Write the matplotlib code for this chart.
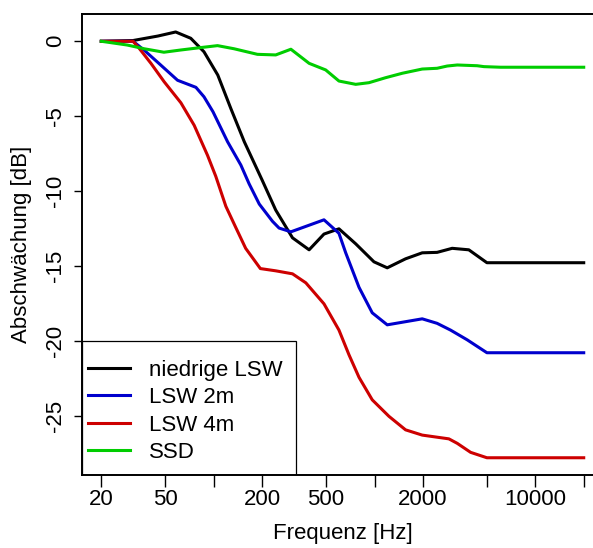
import numpy as np
import matplotlib.pyplot as plt
from matplotlib.patches import Rectangle

plt.rcParams['font.family'] = ['Liberation Sans', 'DejaVu Sans']
plt.rcParams['font.size'] = 16

# frequencies (Hz) and attenuation (dB)
f_niedrig = [20, 31.5, 45, 58, 72, 87, 106, 128, 155, 200, 243, 309, 392, 485,
             601, 764, 992, 1200, 1560, 1980, 2450, 3040, 3860, 5000, 20000]
niedrig = [0, 0.05, 0.35, 0.62, 0.2, -0.7, -2.25, -4.5, -6.7, -9.25, -11.25, -13.1, -13.9, -12.85,
           -12.5, -13.5, -14.7, -15.1, -14.5, -14.1, -14.07, -13.8, -13.9, -14.76, -14.76]

f_lsw2 = [20, 31.5, 37, 47, 59.6, 77.5, 87, 99, 122, 147.5, 166, 192, 232, 255, 302,
          485, 601, 662, 801, 968, 1200, 1980, 2450, 2970, 3770, 5000, 20000]
lsw2 = [0, 0, -0.6, -1.6, -2.6, -3.07, -3.7, -4.7, -6.7, -8.25, -9.5, -10.85, -12.0, -12.45, -12.7,
        -11.9, -12.8, -14.1, -16.4, -18.1, -18.9, -18.5, -18.8, -19.25, -19.9, -20.76, -20.76]

f_lsw4 = [20, 31.5, 34.4, 40.7, 49.2, 62.5, 75.6, 91.5, 103, 119, 137, 158, 195, 243, 309,
          374, 485, 601, 694, 801, 968, 1230, 1560, 1980, 2900, 3270, 3960, 5000, 20000]
lsw4 = [0, 0, -0.47, -1.47, -2.7, -4.1, -5.6, -7.6, -9.0, -11.0, -12.4, -13.8, -15.15, -15.3, -15.5,
        -16.1, -17.5, -19.25, -20.9, -22.4, -23.9, -25.0, -25.9, -26.25, -26.5, -26.8, -27.4, -27.76, -27.76]

f_ssd = [20, 29, 37, 49, 62.5, 83, 105.6, 134, 187, 243, 302, 392, 497, 601, 764,
         924, 1170, 1490, 1980, 2450, 2830, 3270, 4350, 4790, 6080, 20000]
ssd = [0, -0.25, -0.5, -0.73, -0.58, -0.42, -0.29, -0.5, -0.87, -0.91, -0.53, -1.47, -1.91, -2.65, -2.87,
       -2.76, -2.43, -2.13, -1.85, -1.8, -1.65, -1.58, -1.63, -1.69, -1.73, -1.73]

labels = ['niedrige LSW', 'LSW 2m', 'LSW 4m', 'SSD']
colors = ['#000000', '#0000CD', '#CD0000', '#00CD00']

xticks = [20, 50, 100, 200, 500, 1000, 2000, 5000, 10000, 20000]
xticklabels = ['20', '50', '', '200', '500', '', '2000', '', '10000', '']
yticks = [0, -5, -10, -15, -20, -25]

fig = plt.figure(figsize=(5.93, 5.48), dpi=100)
ax = fig.add_axes([0.1383, 0.1332, 0.8786, 0.8413])

ax.plot(f_niedrig, niedrig, color=colors[0], lw=2.2, label=labels[0])
ax.plot(f_lsw2, lsw2, color=colors[1], lw=2.2, label=labels[1])
ax.plot(f_lsw4, lsw4, color=colors[2], lw=2.2, label=labels[2])
ax.plot(f_ssd, ssd, color=colors[3], lw=2.2, label=labels[3])

ax.set_xscale('log')
ax.set_xlim(15.17, 26366)
ax.set_ylim(-28.91, 1.82)
ax.set_xticks(xticks)
ax.set_xticklabels(xticklabels)
ax.minorticks_off()
ax.set_yticks(yticks)
ax.set_yticklabels([str(v) for v in yticks], rotation=90, va='center')
ax.tick_params(axis='x', length=8.5, width=1, pad=1.5)
ax.tick_params(axis='y', length=5.5, width=1, pad=5.7)
for s in ax.spines.values():
    s.set_linewidth(1.4)

ax.set_xlabel('Frequenz [Hz]', va='center')
ax.xaxis.set_label_coords(0.5, -0.1258)
ax.set_ylabel('Abschwächung [dB]', va='center')
ax.yaxis.set_label_coords(-0.116, 0.5)

# legend frame like R's bottomleft legend
ax.add_patch(Rectangle((0, 0), 0.41, 0.2907, transform=ax.transAxes, fill=False,
                       edgecolor='black', lw=0.9, zorder=5))
ax.legend(loc='upper left', bbox_to_anchor=(0.0115, 0.250), frameon=False, borderpad=0,
          borderaxespad=0, handlelength=1.87, handletextpad=0.89, labelspacing=0.29)

fig.savefig('out.png', dpi=100)
